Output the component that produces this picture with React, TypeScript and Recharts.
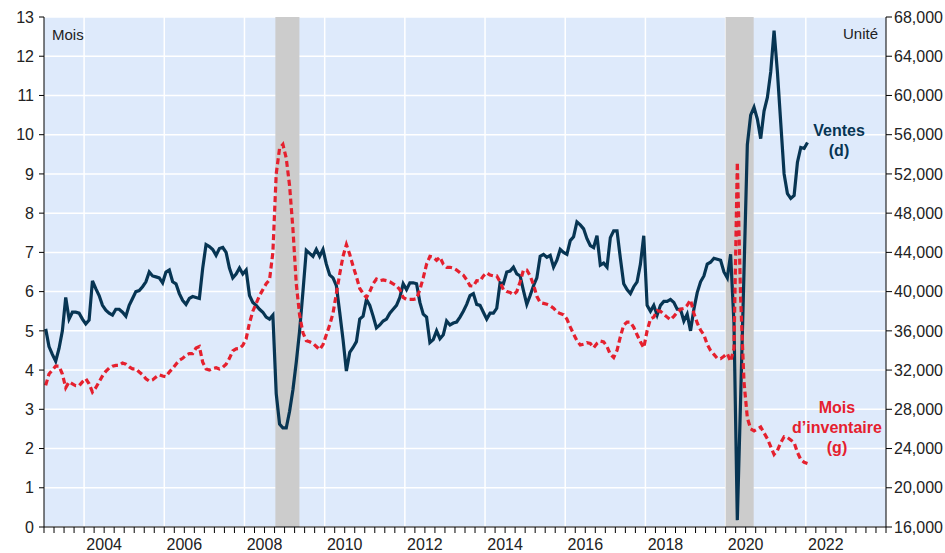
import { LineChart, Line, XAxis, YAxis, CartesianGrid, ReferenceArea } from 'recharts'

// monthly series, Jan 2003 .. Jan 2022
const START_YEAR = 2003

// Ventes (unités, axe de droite)
const ventes = [
    36200, 34400, 33600, 32900, 34200, 36000, 39400, 37200, 37900, 37900, 37800, 37200,
    36700, 37100, 41100, 40300, 39600, 38600, 38100, 37800, 37600, 38200, 38200, 37900,
    37500, 38600, 39300, 40000, 40100, 40500, 41000, 42000, 41600, 41500, 41400, 40900,
    42000, 42200, 41000, 40800, 39800, 39100, 38700, 39300, 39500, 39400, 39300, 42400,
    44800, 44600, 44300, 43700, 44400, 44500, 44000, 42400, 41400, 41800, 42400, 41800,
    42200, 39600, 38900, 38600, 38200, 37900, 37400, 37200, 37600, 29600, 26500, 26100,
    26100, 27800, 30000, 32800, 36000, 40000, 44200, 43900, 43600, 44300, 43600, 44300,
    42800, 41700, 41400, 40600, 37900, 35100, 31900, 33800, 34300, 34900, 37200, 37500,
    39200, 38600, 37500, 36300, 36600, 37000, 37200, 37800, 38200, 38600, 39400, 40800,
    40200, 40900, 40900, 40800, 38900, 37700, 37400, 34800, 35100, 36000, 35200, 35600,
    37000, 36600, 36800, 36900, 37400, 38000, 38700, 39600, 39800, 38700, 38600, 37900,
    37200, 37800, 37800, 38300, 40900, 40800, 42000, 42100, 42500, 41800, 41600, 40100,
    38700, 39600, 40600, 41400, 43600, 43800, 43500, 43700, 42500, 43200, 44300, 44000,
    43800, 45200, 45600, 47100, 46800, 46400, 45400, 44700, 44500, 45700, 42700, 42900,
    42500, 45500, 46200, 46200, 43400, 40800, 40200, 39800, 40500, 41000, 42800, 45700,
    38600, 38000, 38600, 37600, 38600, 39000, 39000, 39200, 38900, 38200, 38200, 37000,
    37700, 36000, 38200, 39900, 41000, 41600, 42800, 43000, 43400, 43300, 43200, 42000,
    41400, 43800, 36800, 16700, 29200, 42000, 55000, 58000, 58800, 57600, 55600, 58400,
    59800, 62400, 66600, 62400, 57200, 52000, 50000, 49500, 49800, 53200, 54700, 54600,
    55200,
]

// Mois d'inventaire (axe de gauche)
const moisInventaire = [
    3.61, 3.9, 4.0, 4.1, 4.1, 3.9, 3.55, 3.7, 3.65, 3.6, 3.6, 3.7,
    3.78, 3.65, 3.44, 3.55, 3.7, 3.85, 3.97, 4.05, 4.1, 4.12, 4.12, 4.18,
    4.15, 4.08, 4.03, 4.03, 3.95, 3.88, 3.78, 3.72, 3.75, 3.82, 3.88, 3.85,
    3.83, 3.95, 4.04, 4.15, 4.25, 4.3, 4.38, 4.42, 4.42, 4.56, 4.6, 4.2,
    4.03, 4.0, 4.04, 4.06, 4.03, 4.07, 4.15, 4.3, 4.49, 4.54, 4.55, 4.63,
    4.8, 5.2, 5.5, 5.7, 5.9, 6.05, 6.2, 6.3, 7.0, 9.0, 9.65, 9.75,
    9.4, 8.7, 7.6, 6.2, 5.4, 4.95, 4.75, 4.72, 4.68, 4.6, 4.52, 4.65,
    4.9, 5.15, 5.45, 5.95, 6.45, 6.9, 7.2, 6.95, 6.65, 6.38, 6.08, 5.95,
    5.85, 6.0, 6.2, 6.32, 6.28, 6.3, 6.28, 6.25, 6.2, 6.15, 6.05, 5.85,
    5.8, 5.8, 5.8, 5.82, 6.05, 6.35, 6.7, 6.9, 6.88, 6.8, 6.88, 6.7,
    6.62, 6.62, 6.6, 6.55, 6.48, 6.42, 6.3, 6.15, 6.14, 6.28, 6.27, 6.4,
    6.48, 6.42, 6.4, 6.4, 6.25, 6.05, 6.0, 5.98, 5.92, 6.0, 6.25, 6.55,
    6.55, 6.4, 6.18, 5.88, 5.72, 5.7, 5.68, 5.64, 5.58, 5.48, 5.44, 5.41,
    5.3, 5.1, 4.92, 4.75, 4.64, 4.66, 4.7, 4.68, 4.57, 4.68, 4.74, 4.72,
    4.6, 4.4, 4.32, 4.5, 4.85, 5.15, 5.22, 5.22, 5.09, 4.9, 4.72, 4.57,
    5.0, 5.3, 5.35, 5.51, 5.5, 5.42, 5.35, 5.28, 5.37, 5.47, 5.55, 5.57,
    5.65, 5.79, 5.45, 5.2, 5.02, 4.9, 4.65, 4.5, 4.4, 4.3, 4.29, 4.35,
    4.42, 4.22, 4.55, 9.3, 5.8, 3.7, 2.78, 2.5, 2.45, 2.5, 2.55, 2.4,
    2.25, 2.05, 1.85, 1.95, 2.15, 2.3, 2.28, 2.22, 2.15, 1.9, 1.72, 1.65,
    1.62,
]

// recessions (shaded)
const recessions = [
    { from: 2008.77, to: 2009.37 },
    { from: 2020.0, to: 2020.7 },
]

const labelYears = [2004, 2006, 2008, 2010, 2012, 2014, 2016, 2018, 2020, 2022]
const leftTicks = [0, 1, 2, 3, 4, 5, 6, 7, 8, 9, 10, 11, 12, 13]
const rightTicks = [16000, 20000, 24000, 28000, 32000, 36000, 40000, 44000, 48000, 52000, 56000, 60000, 64000, 68000]

const quarterTicks: number[] = []
for (let q = 0; q <= (2024 - START_YEAR) * 4; q++) quarterTicks.push(START_YEAR + q / 4)

const data = ventes.map((v, i) => ({
    t: START_YEAR + (i + 0.5) / 12,
    ventes: v,
    mois: moisInventaire[i],
}))

const FONT = '"Liberation Sans", Arial, sans-serif'
const NAVY = '#073553'
const RED = '#e5202e'

function YearTick(props: any) {
    const { x, y, payload } = props
    const year = payload.value - 0.5
    if (!labelYears.includes(year)) return <g />
    return (
        <text x={x} y={y + 15} textAnchor="middle" fontSize={16} fill="#222" fontFamily={FONT}>
            {year}
        </text>
    )
}

export default function App() {
    return (
        <div style={{ position: 'absolute', left: 0, top: 0, width: 945, height: 553, background: '#fff' }}>
            <LineChart
                width={945}
                height={553}
                data={data}
                margin={{ top: 17, right: 0, left: 0, bottom: 0 }}
                style={{ fontFamily: FONT }}
            >
                <CartesianGrid
                    yAxisId="left"
                    fill="#deeafb"
                    fillOpacity={1}
                    stroke="#ffffff"
                    strokeWidth={1.5}
                    verticalValues={labelYears}
                />
                {recessions.map((r) => (
                    <ReferenceArea
                        key={r.from}
                        yAxisId="left"
                        x1={r.from}
                        x2={r.to}
                        y1={0}
                        y2={13}
                        fill="#cccccc"
                        fillOpacity={1}
                        stroke="none"
                    />
                ))}
                <XAxis
                    type="number"
                    dataKey="t"
                    domain={[2003, 2024]}
                    ticks={quarterTicks}
                    interval={0}
                    tick={<YearTick />}
                    tickSize={6}
                    tickMargin={2}
                    tickLine={{ stroke: '#000' }}
                    axisLine={{ stroke: '#000' }}
                    height={26}
                    allowDataOverflow
                />
                <YAxis
                    yAxisId="left"
                    domain={[0, 13]}
                    ticks={leftTicks}
                    interval={0}
                    width={44}
                    tickSize={5}
                    tickMargin={5}
                    tick={{ fontSize: 16, fill: '#222' }}
                    tickLine={{ stroke: '#000' }}
                    axisLine={{ stroke: '#000' }}
                />
                <YAxis
                    yAxisId="right"
                    orientation="right"
                    domain={[16000, 68000]}
                    ticks={rightTicks}
                    interval={0}
                    width={59}
                    tickSize={6}
                    tickMargin={2}
                    tick={{ fontSize: 16, fill: '#222' }}
                    tickLine={{ stroke: '#000' }}
                    axisLine={{ stroke: '#000' }}
                    tickFormatter={(v: number) => v.toLocaleString('en-US')}
                />
                <Line
                    yAxisId="right"
                    type="linear"
                    dataKey="ventes"
                    stroke={NAVY}
                    strokeWidth={3.2}
                    dot={false}
                    isAnimationActive={false}
                />
                <Line
                    yAxisId="left"
                    type="linear"
                    dataKey="mois"
                    stroke={RED}
                    strokeWidth={3.2}
                    strokeDasharray="6 3.5"
                    dot={false}
                    isAnimationActive={false}
                />
            </LineChart>
            <svg
                width={945}
                height={553}
                style={{ position: 'absolute', left: 0, top: 0, pointerEvents: 'none' }}
                fontFamily={FONT}
            >
                <text x={52} y={40} fontSize={15} fill="#222">Mois</text>
                <text x={878} y={39} fontSize={15} fill="#222" textAnchor="end">Unité</text>
                <text x={839} y={136} fontSize={16} fontWeight="bold" fill={NAVY} textAnchor="middle">Ventes</text>
                <text x={839} y={156} fontSize={16} fontWeight="bold" fill={NAVY} textAnchor="middle">(d)</text>
                <text x={837} y={413} fontSize={16} fontWeight="bold" fill={RED} textAnchor="middle">Mois</text>
                <text x={837} y={433} fontSize={16} fontWeight="bold" fill={RED} textAnchor="middle">d’inventaire</text>
                <text x={837} y={453} fontSize={16} fontWeight="bold" fill={RED} textAnchor="middle">(g)</text>
            </svg>
        </div>
    )
}
